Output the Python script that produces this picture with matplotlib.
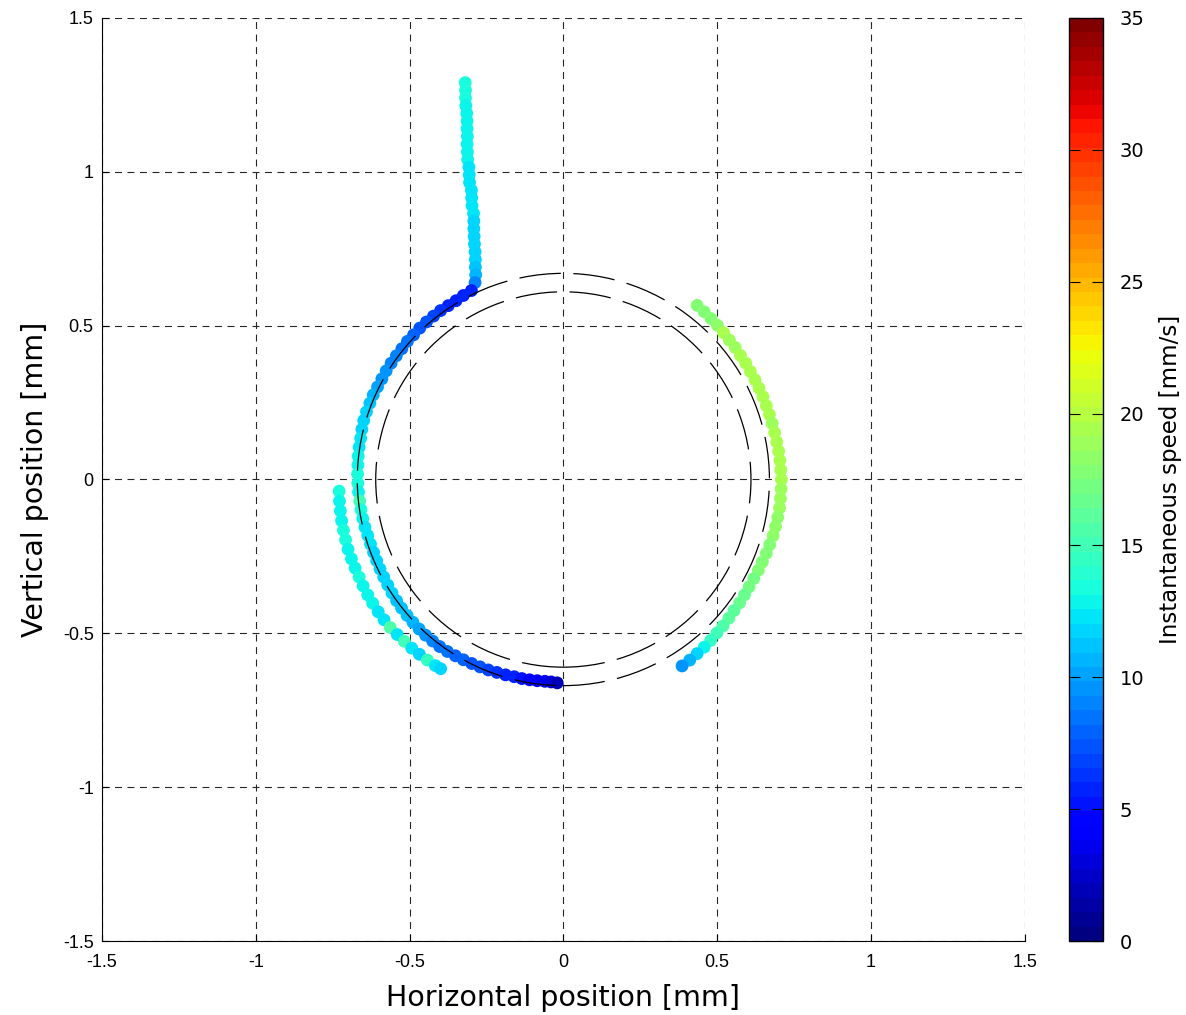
import numpy as np
import matplotlib
matplotlib.use("Agg")
import matplotlib.pyplot as plt
from matplotlib.patches import Circle

plt.rcParams['lines.scale_dashes'] = False

# main track: vertical approach + arc along the left side to the bottom
track_x = [-0.319, -0.318, -0.318, -0.317, -0.314, -0.313, -0.313, -0.312, -0.313, -0.312,
           -0.311, -0.307, -0.306, -0.305, -0.299, -0.298, -0.297, -0.292, -0.291, -0.291,
           -0.290, -0.289, -0.287, -0.286, -0.286, -0.285, -0.287,
           -0.299, -0.325, -0.349, -0.374, -0.399, -0.422, -0.445, -0.467, -0.487, -0.507,
           -0.525, -0.543, -0.560, -0.576, -0.590, -0.604, -0.618, -0.629, -0.640, -0.649,
           -0.655, -0.659, -0.664, -0.667, -0.668, -0.669, -0.668, -0.666, -0.662, -0.658,
           -0.652, -0.645, -0.636, -0.627, -0.617, -0.607, -0.596, -0.584, -0.571, -0.557,
           -0.542, -0.526, -0.508, -0.489, -0.469, -0.448, -0.425, -0.402, -0.377, -0.351,
           -0.325, -0.298, -0.271, -0.244, -0.216, -0.188, -0.160,
           -0.135, -0.110, -0.085, -0.060, -0.040, -0.020]
track_y = [1.290, 1.265, 1.240, 1.215, 1.190, 1.165, 1.140, 1.115, 1.090, 1.065,
           1.040, 1.015, 0.990, 0.965, 0.940, 0.915, 0.890, 0.865, 0.840, 0.815,
           0.790, 0.765, 0.740, 0.715, 0.690, 0.665, 0.640,
           0.614, 0.598, 0.581, 0.565, 0.549, 0.531, 0.512, 0.492, 0.470, 0.449,
           0.425, 0.402, 0.378, 0.353, 0.327, 0.301, 0.275, 0.248, 0.220, 0.192,
           0.163, 0.134, 0.105, 0.076, 0.047, 0.018, -0.012, -0.041, -0.070, -0.098,
           -0.127, -0.155, -0.182, -0.210, -0.237, -0.264, -0.291, -0.317, -0.343, -0.369,
           -0.394, -0.418, -0.442, -0.464, -0.486, -0.506, -0.525, -0.543, -0.559, -0.573,
           -0.586, -0.598, -0.609, -0.619, -0.627, -0.635, -0.641,
           -0.647, -0.651, -0.654, -0.656, -0.658, -0.661]
track_speed = [13.5, 13.5, 13.5, 13.0, 13.0, 13.0, 13.0, 13.0, 13.0, 13.0,
               13.0, 12.5, 12.5, 12.5, 12.5, 12.5, 12.5, 12.5, 12.0, 12.0,
               12.0, 12.0, 11.5, 11.5, 11.0, 10.5, 9.0,
               6.0, 5.5, 5.5, 6.0, 6.5, 7.0, 7.5, 7.5, 8.0, 8.5,
               8.5, 9.0, 9.0, 9.5, 9.5, 10.0, 10.5, 11.0, 11.5, 12.0,
               12.0, 12.5, 12.5, 13.0, 13.0, 13.5, 13.5, 13.0, 15.0, 13.5,
               13.0, 12.5, 12.5, 12.5, 12.0, 12.0, 12.0, 12.0, 11.5, 11.5,
               11.0, 11.0, 11.0, 10.5, 10.0, 9.5, 9.0, 8.5, 8.5, 8.0,
               8.0, 7.5, 7.5, 7.0, 6.5, 6.0, 5.5,
               5.0, 4.5, 4.0, 3.5, 3.0, 2.0]

# outer left arc
outer_x = [-0.729, -0.728, -0.725, -0.721, -0.715, -0.708, -0.700, -0.689, -0.677, -0.664,
           -0.651, -0.636, -0.620, -0.602, -0.583, -0.563, -0.540, -0.517, -0.493, -0.468,
           -0.442, -0.416, -0.399]
outer_y = [-0.038, -0.070, -0.102, -0.134, -0.165, -0.196, -0.227, -0.258, -0.288, -0.317,
           -0.346, -0.375, -0.402, -0.430, -0.456, -0.481, -0.504, -0.526, -0.548, -0.568,
           -0.587, -0.605, -0.615]
outer_speed = [13.5, 13.0, 13.0, 13.0, 13.5, 13.5, 13.0, 13.0, 13.0, 13.5,
               13.0, 13.0, 13.0, 12.5, 12.5, 15.5, 12.5, 15.0, 12.5, 12.0,
               14.5, 12.5, 12.0]

# right arc
right_x = [0.435, 0.458, 0.480, 0.501, 0.521, 0.540, 0.559, 0.576, 0.593, 0.608,
           0.623, 0.636, 0.649, 0.660, 0.670, 0.679, 0.687, 0.694, 0.700, 0.704,
           0.707, 0.709, 0.708, 0.706, 0.703, 0.697, 0.690, 0.682, 0.671, 0.660,
           0.647, 0.634, 0.619, 0.604, 0.589, 0.573, 0.555, 0.538, 0.519, 0.499,
           0.479, 0.458, 0.435, 0.411, 0.386]
right_y = [0.566, 0.545, 0.523, 0.501, 0.477, 0.453, 0.429, 0.403, 0.378, 0.351,
           0.324, 0.297, 0.269, 0.240, 0.211, 0.182, 0.152, 0.122, 0.092, 0.062,
           0.031, 0.000, -0.031, -0.062, -0.093, -0.123, -0.153, -0.183, -0.212, -0.240,
           -0.268, -0.295, -0.322, -0.349, -0.375, -0.401, -0.426, -0.451, -0.476, -0.499,
           -0.523, -0.545, -0.566, -0.587, -0.606]
right_speed = [17.5, 18.0, 18.0, 18.5, 19.5, 19.0, 19.0, 19.5, 19.5, 19.5,
               19.5, 19.5, 19.5, 19.5, 19.5, 19.0, 19.5, 19.5, 19.5, 19.5,
               19.5, 19.5, 19.0, 19.0, 19.0, 18.5, 18.5, 18.5, 18.0, 18.0,
               17.5, 17.5, 17.0, 17.0, 16.5, 16.5, 16.0, 16.0, 15.5, 15.0,
               14.5, 13.0, 12.0, 10.5, 9.5]

circle_radii = [0.67, 0.61]

cmap = plt.get_cmap('jet', 64)

fig = plt.figure(figsize=(11.86, 10.15), dpi=100)
ax = fig.add_axes([0.086, 0.0729, 0.778, 0.9094])
cax = fig.add_axes([0.9014, 0.0729, 0.0287, 0.9094])

for xs, ys, sp in [(track_x, track_y, track_speed),
                   (outer_x, outer_y, outer_speed),
                   (right_x, right_y, right_speed)]:
    sc = ax.scatter(xs, ys, c=sp, cmap=cmap, vmin=0, vmax=35, s=85,
                    edgecolors='none', zorder=2)

for r in circle_radii:
    ax.add_patch(Circle((0, 0), r, fill=False, edgecolor='black', linewidth=0.9,
                        linestyle=(0, (30, 9)), zorder=3))

ax.set_xlim(-1.5, 1.5)
ax.set_ylim(-1.5, 1.5)
ax.set_xticks([-1.5, -1, -0.5, 0, 0.5, 1, 1.5])
ax.set_yticks([-1.5, -1, -0.5, 0, 0.5, 1, 1.5])
ax.set_xticklabels(['-1.5', '-1', '-0.5', '0', '0.5', '1', '1.5'])
ax.set_yticklabels(['-1.5', '-1', '-0.5', '0', '0.5', '1', '1.5'])
ax.grid(True, color='0.15', linestyle=(0, (5, 4)), linewidth=0.8)
ax.set_axisbelow(True)
ax.spines['top'].set_visible(False)
ax.spines['right'].set_visible(False)
ax.tick_params(direction='in', length=5, labelsize=13)
ax.tick_params(axis='x', pad=9)
ax.tick_params(axis='y', pad=6)
for lbl in ax.get_xticklabels() + ax.get_yticklabels():
    lbl.set_family('Liberation Sans')
ax.set_xlabel('Horizontal position [mm]', fontsize=20.5, labelpad=10)
ax.set_ylabel('Vertical position [mm]', fontsize=20.5, labelpad=10)

cb = fig.colorbar(sc, cax=cax, ticks=[0, 5, 10, 15, 20, 25, 30, 35])
cb.ax.tick_params(direction='in', length=8, labelsize=14, left=True, right=True, pad=12)
cb.outline.set_linewidth(1.0)
cb.set_label('Instantaneous speed [mm/s]', fontsize=16.5, labelpad=10)

fig.savefig('out.png', dpi=100)
